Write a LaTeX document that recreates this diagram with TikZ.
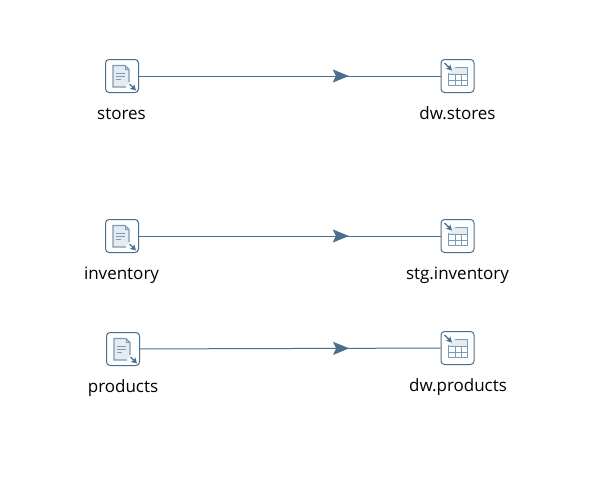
\documentclass[tikz,border=0pt]{standalone}
\usepackage{fontspec}
\setmainfont{Open Sans}
\definecolor{flowblue}{HTML}{4A6F8E}
\definecolor{iconfill}{HTML}{E4EBF1}
\definecolor{iconline}{HTML}{7F9BB2}
\usetikzlibrary{arrows.meta,positioning,decorations.markings}
\tikzset{
  stepbox/.style={draw=flowblue,line width=1pt,rounded corners=3.5pt,fill=white,minimum width=33pt,minimum height=33pt,inner sep=0pt},
  steplabel/.style={font=\fontsize{17}{20}\selectfont,text=black,inner sep=0pt,text height=12pt,text depth=4pt,anchor=center},
  hop/.style={draw=flowblue,line width=1pt,postaction={decorate},decoration={markings,mark=at position 0.696 with {\arrow[flowblue]{Stealth[length=16pt,width=13pt,inset=3pt]}}}},
  pics/fileicon/.style={code={
    \fill[iconfill] (-9,-10.5) -- (3,-10.5) -- (7,-6.5) -- (7,7) -- (3,11) -- (-9,11) -- cycle;
    \draw[iconline,line width=1.2pt] (4,11) -- (-9,11) -- (-9,-10.5) -- (3,-10.5) -- (7,-6.5) -- (7,6);
    \draw[iconline,line width=0.9pt] (3,-10.5) -- (3,-6.5) -- (7,-6.5);
    \draw[iconline,line width=0.9pt] (-6,-3) -- (3,-3) (-6,0) -- (3,0) (-6,3) -- (-1,3);
    \draw[flowblue,line width=1.4pt,-{Stealth[length=5.5pt,width=6pt,inset=1pt]}] (7.5,8) -- (14,14.5);
  }},
  pics/tableicon/.style={code={
    \fill[iconfill] (-3,-9) -- (10,-9) -- (10,-2) -- (-9,-2) -- (-9,-4) -- cycle;
    \draw[iconline,line width=1pt] (-3,-9) -- (10,-9) -- (10,9.5) -- (-9,9.5) -- (-9,-3);
    \draw[iconline,line width=0.9pt] (-9,-2) -- (10,-2) (-9,4) -- (10,4) (-2.5,-2) -- (-2.5,9.5) (4,-2) -- (4,9.5);
    \draw[flowblue,line width=1.4pt,-{Stealth[length=5.5pt,width=6pt,inset=1pt]}] (-13,-13) -- (-5.5,-5.5);
  }},
}
\begin{document}
\begin{tikzpicture}[x=1pt,y=-1pt]
  \useasboundingbox (0,0) rectangle (601,487);
  % Stores row
  \node[stepbox] (storesin) at (122,76) {};
  \node[stepbox] (storesout) at (457.5,76) {};
  \draw[hop] (storesin) -- (storesout);
  \pic at (storesin) {fileicon};
  \pic at (storesout) {tableicon};
  \node[steplabel] (storeslabel) at (121.5,115.5) {stores};
  \node[steplabel] (dwstoreslabel) at (457.5,115.5) {dw.stores};
  % Inventory row
  \node[stepbox] (inventoryin) at (122,236) {};
  \node[stepbox] (inventoryout) at (457.5,236) {};
  \draw[hop] (inventoryin) -- (inventoryout);
  \pic at (inventoryin) {fileicon};
  \pic at (inventoryout) {tableicon};
  \node[steplabel] (inventorylabel) at (121.5,275.5) {inventory};
  \node[steplabel] (stginventorylabel) at (457.5,275.5) {stg.inventory};
  % Products row
  \node[stepbox] (productsin) at (123,349) {};
  \node[stepbox] (productsout) at (457.5,348) {};
  \draw[hop] (productsin) -- (productsout);
  \pic at (productsin) {fileicon};
  \pic at (productsout) {tableicon};
  \node[steplabel] (productslabel) at (123,388.5) {products};
  \node[steplabel] (dwproductslabel) at (458,387.5) {dw.products};
\end{tikzpicture}
\end{document}
